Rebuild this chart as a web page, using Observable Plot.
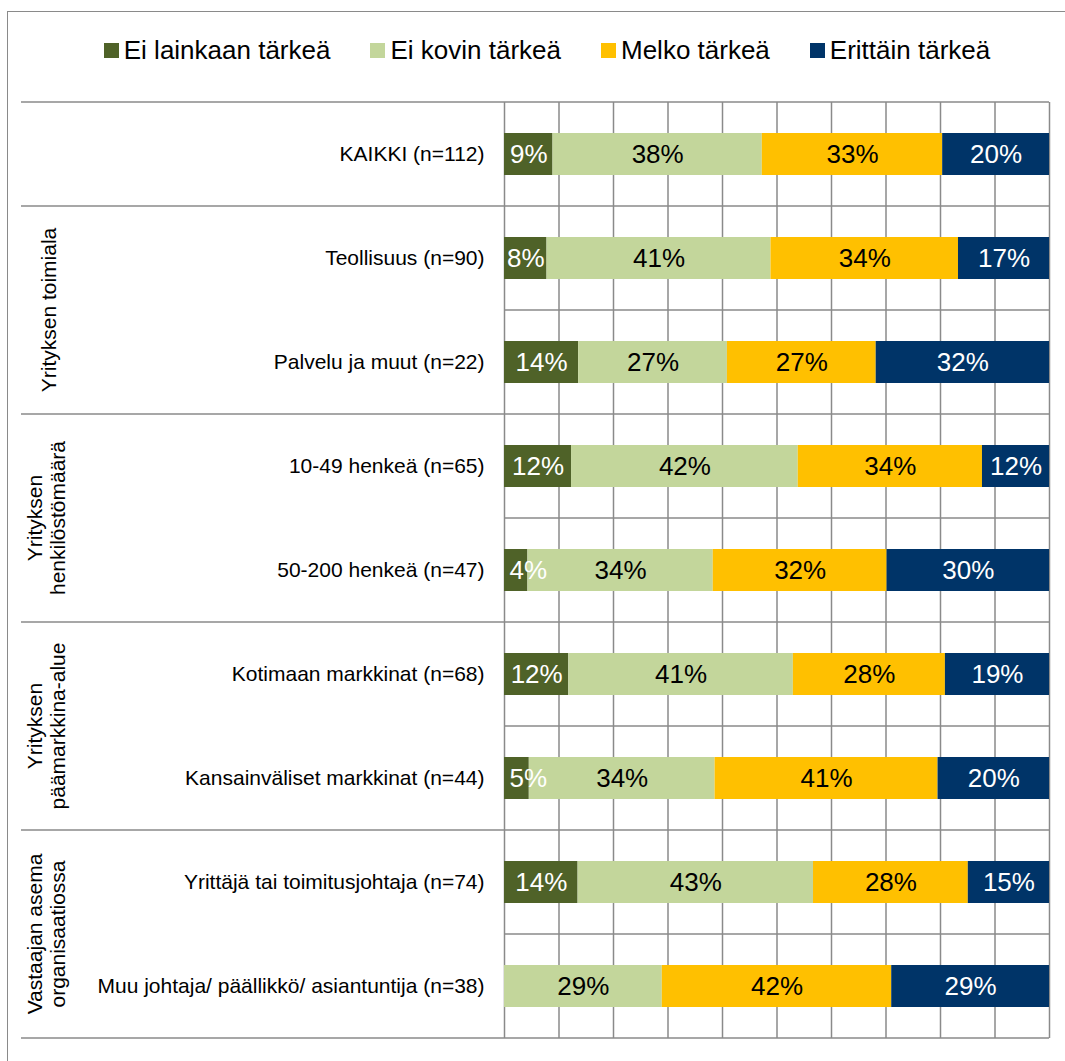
<!DOCTYPE html>
<html>
<head>
<meta charset="utf-8">
<script src="https://cdn.jsdelivr.net/npm/d3@7"></script>
<script src="https://cdn.jsdelivr.net/npm/@observablehq/plot@0.6"></script>
<style>
  html, body { margin: 0; padding: 0; background: #fff; }
  #wrap { position: relative; width: 1065px; height: 1061px; overflow: hidden;
          font-family: "Liberation Sans", Arial, sans-serif; }
  #frame { position: absolute; left: 7px; top: 11px; width: 1200px; height: 1200px;
           border-left: 1.5px solid #8a8a8a; border-top: 1.5px solid #8a8a8a; }
  #chart { position: absolute; left: 0; top: 0; }
  #legend { position: absolute; top: 37px; left: 0; width: 1094px; height: 26px;
            display: flex; justify-content: center; align-items: center; }
  .item { display: flex; align-items: center; margin: 0 20px; }
  .sw { width: 15px; height: 15px; margin-right: 5px; }
  .lab { font-size: 26px; line-height: 26px; color: #000; white-space: nowrap; }
</style>
</head>
<body>
<div id="wrap">
  <div id="frame"></div>
  <div id="chart"></div>
  <div id="legend"></div>
</div>
<script>
// ---- data ----
const categories = [
  "KAIKKI (n=112)",
  "Teollisuus (n=90)",
  "Palvelu ja muut (n=22)",
  "10-49 henkeä (n=65)",
  "50-200 henkeä (n=47)",
  "Kotimaan markkinat (n=68)",
  "Kansainväliset markkinat (n=44)",
  "Yrittäjä tai toimitusjohtaja (n=74)",
  "Muu johtaja/ päällikkö/ asiantuntija (n=38)"
];
const series = ["Ei lainkaan tärkeä", "Ei kovin tärkeä", "Melko tärkeä", "Erittäin tärkeä"];
const eiLainkaan = [8.9, 7.8, 13.6, 12.3, 4.3, 11.8, 4.55, 13.5, 0];
const eiKovin    = [38.4, 41.1, 27.3, 41.6, 34.0, 41.2, 34.09, 43.2, 28.95];
const melko      = [33.1, 34.4, 27.3, 33.8, 31.9, 27.9, 40.91, 28.4, 42.1];
const erittain   = [19.6, 16.7, 31.8, 12.3, 29.8, 19.1, 20.45, 14.9, 28.95];
const groupLabels = ["", "Yrityksen toimiala", "Yrityksen\nhenkilöstömäärä", "Yrityksen\npäämarkkina-alue", "Vastaajan asema\norganisaatiossa"];
const groupSizes = [1, 2, 2, 2, 2];
const gridTicks = [0, 10, 20, 30, 40, 50, 60, 70, 80, 90, 100];

const colors = ["#4f6228", "#c3d69b", "#ffc000", "#003468"];
const labelColors = ["#ffffff", "#000000", "#000000", "#ffffff"];
const gridColor = "#8a8a8a";

const seriesValues = [eiLainkaan, eiKovin, melko, erittain];
const data = categories.flatMap((c, i) =>
  series.map((s, j) => ({category: c, series: s, value: seriesValues[j][i], textColor: labelColors[j]}))
);
// first segments too narrow for a centered label are labelled from the bar start
const isNarrowFirst = d => d.series === series[0] && d.value > 0 && d.value < 6;
const pct = d => Math.round(d.value) + "%";

// horizontal row/group separators drawn from the y band scale
function separators(index, scales, values, dims) {
  const y = scales.y;
  const bw = y.bandwidth(), step = y.step();
  const off = (step - bw) / 2;
  const g = d3.create("svg:g").attr("stroke", gridColor).attr("stroke-width", 1.5);
  const x0 = dims.marginLeft, x1 = dims.width - dims.marginRight;
  const groupStarts = new Set();
  let acc = 0;
  groupSizes.forEach(n => { groupStarts.add(acc); acc += n; });
  groupStarts.add(acc);
  for (let i = 0; i <= categories.length; i++) {
    const yy = i < categories.length ? y(categories[i]) - off : y(categories[i - 1]) + bw + off;
    g.append("line").attr("x1", groupStarts.has(i) ? 21 : x0).attr("x2", x1).attr("y1", yy).attr("y2", yy);
  }
  return g.node();
}

// rotated group labels in the left margin
function groupText(index, scales, values, dims) {
  const y = scales.y;
  const bw = y.bandwidth();
  const g = d3.create("svg:g")
    .attr("font-size", 21).attr("fill", "#000").attr("text-anchor", "middle");
  let acc = 0;
  groupLabels.forEach((label, k) => {
    const first = categories[acc], last = categories[acc + groupSizes[k] - 1];
    acc += groupSizes[k];
    if (!label) return;
    const cy = (y(first) + y(last) + bw) / 2;
    const lines = label.split("\n");
    const t = g.append("text").attr("transform", `translate(0,${cy}) rotate(-90)`);
    const centers = lines.length === 1 ? [48] : [34, 57];
    lines.forEach((ln, i) => {
      t.append("tspan").attr("x", 0).attr("y", centers[i]).attr("dominant-baseline", "central").text(ln);
    });
  });
  return g.node();
}

const plot = Plot.plot({
  width: 1065,
  height: 1061,
  marginTop: 102,
  marginBottom: 23,
  marginLeft: 504,
  marginRight: 16,
  style: {fontFamily: "'Liberation Sans', Arial, sans-serif", fontSize: "21px", color: "#000", background: "transparent", overflow: "visible"},
  x: {domain: [0, 100], axis: null},
  y: {domain: categories, paddingInner: 0.6, paddingOuter: 0.3, label: null},
  color: {domain: series, range: colors},
  marks: [
    Plot.ruleX(gridTicks, {x: d => d, stroke: gridColor, strokeWidth: 1.5, strokeOpacity: 1}),
    separators,
    Plot.barX(data, {x: "value", y: "category", fill: "series", z: "series"}),
    Plot.text(data, Plot.stackX({
      x: "value", y: "category", z: "series",
      text: d => (d.value > 0 && !isNarrowFirst(d)) ? pct(d) : "",
      fill: d => d.textColor,
      fontSize: 26
    })),
    Plot.text(data.filter(isNarrowFirst), Plot.stackX1({
      x: "value", y: "category",
      text: pct,
      fill: d => d.textColor,
      textAnchor: "start",
      dx: 5,
      fontSize: 26
    })),
    Plot.axisY({tickSize: 0, tickPadding: 20, fontSize: 21, fill: "#000", label: null}),
    groupText
  ]
});
document.getElementById("chart").appendChild(plot);

// legend
const legend = d3.select("#legend");
series.forEach((s, j) => {
  const it = legend.append("div").attr("class", "item");
  it.append("div").attr("class", "sw").style("background", colors[j]);
  it.append("div").attr("class", "lab").text(s);
});
</script>
</body>
</html>
